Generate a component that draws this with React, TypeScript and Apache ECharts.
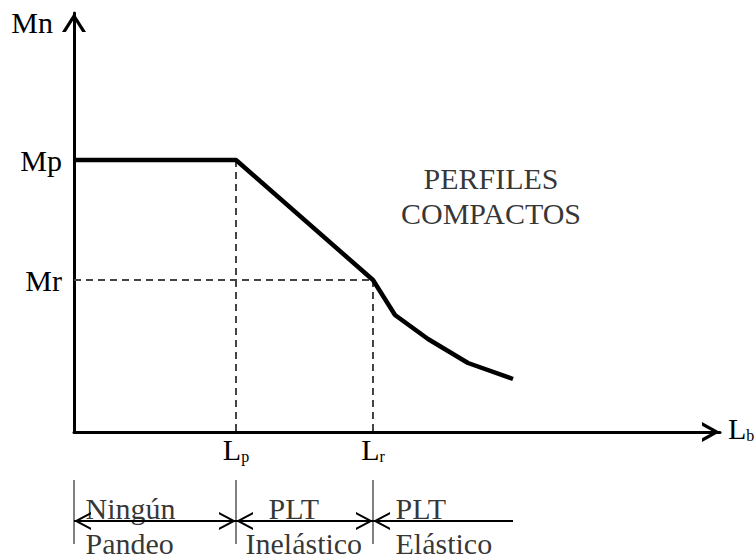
import React, { useEffect, useRef } from 'react';
import * as echarts from 'echarts';

// Axis extents (schematic units)
const X_MAX = 6.46;
const Y_MAX = 4.19;

// Characteristic values
const Lp = 1.62;
const Lr = 2.99;
const Mp = 2.72;
const Mr = 1.52;

// Nominal moment curve
const curveX = [0, Lp, Lr, 3.21, 3.54, 3.94, 4.39];
const curveY = [Mp, Mp, Mr, 1.17, 0.93, 0.69, 0.53];

// Tick labels
const xTickValues = [Lp, Lr];
const xTickMain = ['L', 'L'];
const xTickSub = ['p', 'r'];
const yTickValues = [Mr, Mp];
const yTickLabels = ['Mr', 'Mp'];

// Zones under the axis
const zoneBounds = [0, Lp, Lr, 4.39];
const zoneTop = ['Ningún', 'PLT', 'PLT'];
const zoneBottom = ['Pandeo', 'Inelástico', 'Elástico'];
const zoneTopX = [0.11, Lp + 0.32, Lr + 0.22];
const zoneBottomX = [0.11, Lp + 0.09, Lr + 0.22];
const ZONE_ARROW_Y = -0.89;
const ZONE_SEP_TOP = -0.48;
const ZONE_SEP_BOTTOM = -1.12;
const ZONE_TOP_Y = -0.76;
const ZONE_BOTTOM_Y = -1.11;

const noteText = 'PERFILES\nCOMPACTOS';
const notePos = [4.17, 2.365];

const FONT = "'Liberation Serif', 'Times New Roman', serif";
const FS = 30;

function chevron(w: number, h: number, t: number): string {
  const L = Math.sqrt(h * h + (w * w) / 4);
  const a = (t * L) / h;
  const b = (2 * t * L) / w;
  return `path://M0,${h}L${w / 2},0L${w},${h}L${w - a},${h}L${w / 2},${b}L${a},${h}Z`;
}

// chevron whose tip sits at the centre of its box (box padded above by a tiny speck)
function centredChevron(w: number, h: number, t: number): string {
  const L = Math.sqrt(h * h + (w * w) / 4);
  const a = (t * L) / h;
  const b = (2 * t * L) / w;
  return (
    `path://M${w / 2},0L${w / 2 + 0.01},0L${w / 2},0.01Z` +
    `M0,${2 * h}L${w / 2},${h}L${w},${2 * h}L${w - a},${2 * h}L${w / 2},${h + b}L${a},${2 * h}Z`
  );
}

const richLabel = {
  m: { fontSize: FS, lineHeight: 30, fontFamily: FONT, color: '#000' },
  s: { fontSize: 16, lineHeight: 20, verticalAlign: 'bottom', fontFamily: FONT, color: '#000' },
};

export default function App() {
  const ref = useRef<HTMLDivElement>(null);

  useEffect(() => {
    document.body.style.margin = '0';
    if (!ref.current) return;
    const chart = echarts.init(ref.current, null, { renderer: 'svg' });

    const axisChevY = chevron(24, 19, 3.2);
    const axisChevX = chevron(20, 18, 3.2);
    const smallChev = centredChevron(18, 17, 2);

    const arrowLines: any[] = [];
    for (let i = 0; i < zoneBounds.length - 1; i++) {
      const last = i === zoneBounds.length - 2;
      arrowLines.push({
        coords: [
          [zoneBounds[i], ZONE_ARROW_Y],
          [zoneBounds[i + 1], ZONE_ARROW_Y],
        ],
        symbol: [smallChev, last ? 'none' : smallChev],
      });
    }
    const sepLines: any[] = zoneBounds.slice(0, 3).map((x) => ({
      coords: [
        [x, ZONE_SEP_TOP],
        [x, ZONE_SEP_BOTTOM],
      ],
    }));

    const annotations: any[] = [];
    zoneTop.forEach((t, i) => annotations.push({ name: t, value: [zoneTopX[i], ZONE_TOP_Y] }));
    zoneBottom.forEach((t, i) => annotations.push({ name: t, value: [zoneBottomX[i], ZONE_BOTTOM_Y] }));

    const option: any = {
      animation: false,
      textStyle: { fontFamily: FONT },
      grid: { left: 74, right: 36, top: 13, bottom: 128, containLabel: false, outerBoundsMode: 'none' },
      xAxis: {
        type: 'value',
        min: 0,
        max: X_MAX,
        axisLine: {
          show: true,
          onZero: false,
          symbol: ['none', axisChevX],
          symbolSize: [20, 18],
          symbolOffset: [0, -9],
          lineStyle: { color: '#000', width: 3 },
        },
        axisTick: { show: false },
        splitLine: { show: false },
        axisLabel: {
          customValues: xTickValues,
          margin: 2,
          formatter: (v: number) => {
            const i = xTickValues.indexOf(v);
            return i < 0 ? '' : `{m|${xTickMain[i]}}{s|${xTickSub[i]}}`;
          },
          rich: richLabel,
        },
        name: '{m|L}{s|b}',
        nameLocation: 'end',
        nameGap: 8,
        nameTextStyle: { align: 'left', verticalAlign: 'middle', padding: [0, 0, 8, 0], rich: richLabel },
      },
      yAxis: {
        type: 'value',
        min: 0,
        max: Y_MAX,
        axisLine: {
          show: true,
          onZero: false,
          symbol: ['none', axisChevY],
          symbolSize: [24, 19],
          symbolOffset: [0, -9.5],
          lineStyle: { color: '#000', width: 3 },
        },
        axisTick: { show: false },
        splitLine: { show: false },
        axisLabel: {
          customValues: yTickValues,
          margin: 12,
          fontSize: FS,
          fontFamily: FONT,
          color: '#000',
          formatter: (v: number) => {
            const i = yTickValues.indexOf(v);
            return i < 0 ? '' : yTickLabels[i];
          },
        },
        name: 'Mn',
        nameLocation: 'end',
        nameGap: -9,
        nameTextStyle: {
          align: 'right',
          verticalAlign: 'middle',
          padding: [0, 21, 0, 0],
          fontSize: FS,
          fontFamily: FONT,
          color: '#000',
        },
      },
      series: [
        {
          type: 'line',
          name: 'Mn',
          data: curveX.map((x, i) => [x, curveY[i]]),
          showSymbol: false,
          symbol: 'none',
          lineStyle: { color: '#000', width: 4.5, join: 'round' },
          z: 5,
          silent: true,
          markLine: {
            silent: true,
            symbol: ['none', 'none'],
            label: { show: false },
            lineStyle: { color: '#444', width: 2, type: [7, 5] },
            data: [
              [{ coord: [0, Mr] }, { coord: [Lr, Mr] }],
              [{ coord: [Lp, Mp] }, { coord: [Lp, 0] }],
              [{ coord: [Lr, Mr] }, { coord: [Lr, 0] }],
            ],
          },
        },
        {
          type: 'lines',
          name: 'zoneSeparators',
          coordinateSystem: 'cartesian2d',
          clip: false,
          silent: true,
          symbol: ['none', 'none'],
          lineStyle: { color: '#808080', width: 2, opacity: 1, curveness: 0 },
          data: sepLines,
        },
        {
          type: 'lines',
          name: 'zoneArrows',
          coordinateSystem: 'cartesian2d',
          clip: false,
          silent: true,
          symbol: [smallChev, smallChev],
          symbolSize: [
            [18, 34],
            [18, 34],
          ],
          lineStyle: { color: '#000', width: 2, opacity: 1, curveness: 0 },
          data: arrowLines,
        },
        {
          type: 'scatter',
          name: 'annotations',
          clip: false,
          silent: true,
          symbolSize: 1,
          itemStyle: { color: 'transparent' },
          label: {
            show: true,
            position: 'right',
            distance: 0,
            formatter: '{b}',
            fontSize: FS,
            fontFamily: FONT,
            color: '#000',
          },
          data: [
            ...annotations,
            {
              name: noteText,
              value: notePos,
              label: { position: 'inside', align: 'center', verticalAlign: 'middle', lineHeight: 35 },
            },
          ],
        },
      ],
    };

    chart.setOption(option);
    return () => chart.dispose();
  }, []);

  return <div ref={ref} style={{ width: 756, height: 560 }} />;
}
